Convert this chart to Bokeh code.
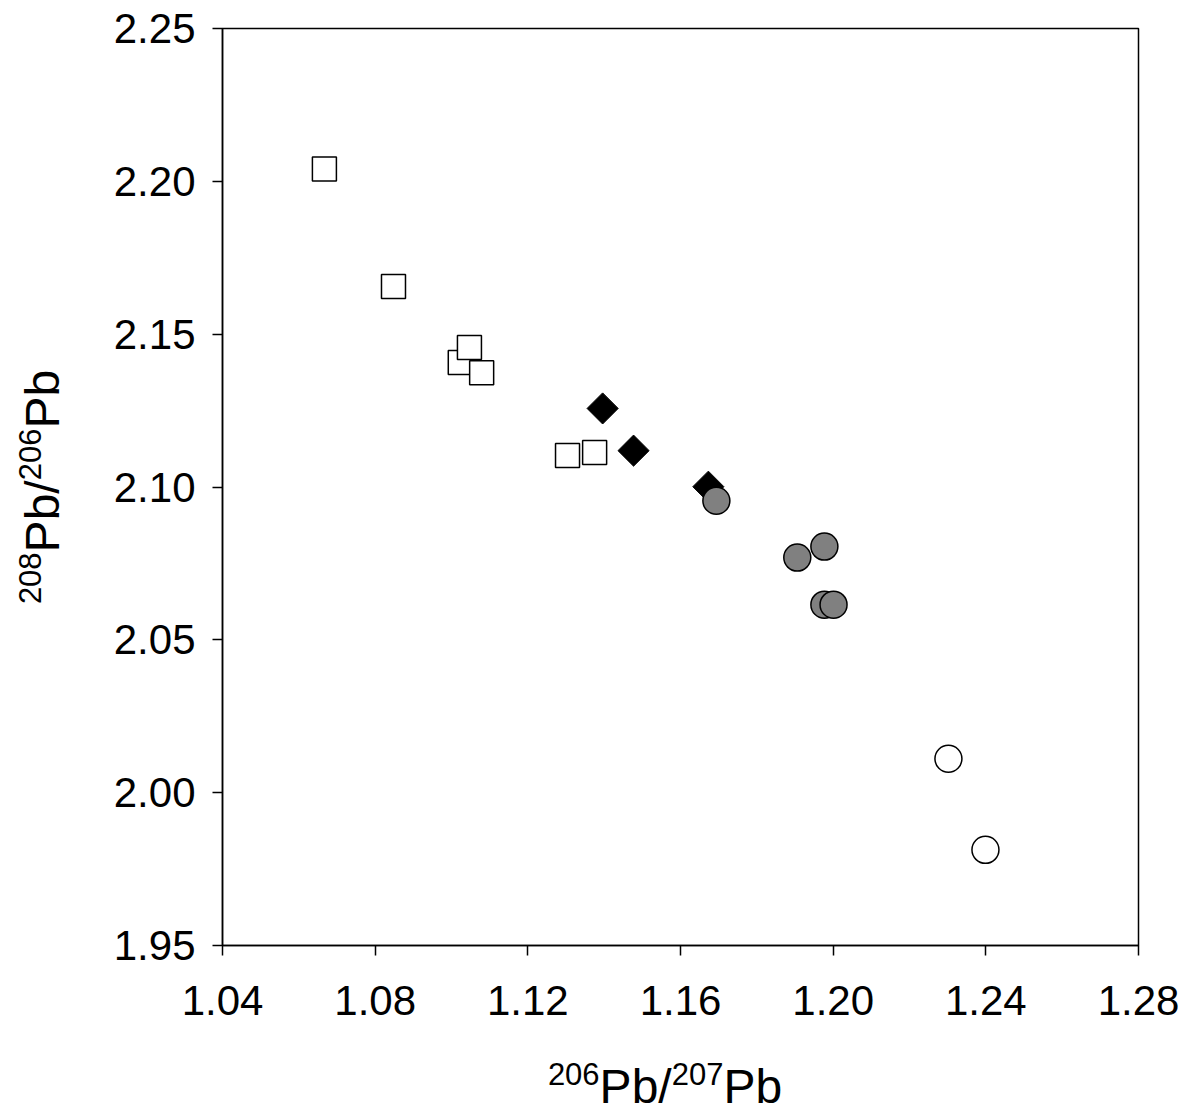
import math
from bokeh.plotting import figure
from bokeh.embed import file_html
from bokeh.resources import INLINE
from bokeh.models import FixedTicker, Range1d, CustomJSTickFormatter, Div
from bokeh.layouts import row, column

sq_x = [1.0667, 1.0848, 1.1023, 1.1047, 1.1079, 1.1304, 1.1375]
sq_y = [2.204, 2.1656, 2.1407, 2.1456, 2.1374, 2.1103, 2.1113]
dm_x = [1.1396, 1.1477, 1.1673]
dm_y = [2.1257, 2.1119, 2.1001]
gc_x = [1.1694, 1.1906, 1.1977, 1.1977, 1.2001]
gc_y = [2.0955, 2.0769, 2.0805, 2.0615, 2.0615]
oc_x = [1.2302, 1.2399]
oc_y = [2.0111, 1.9813]
x_ticks = [1.04, 1.08, 1.12, 1.16, 1.20, 1.24, 1.28]
y_ticks = [1.95, 2.00, 2.05, 2.10, 2.15, 2.20, 2.25]
x_label_parts = ["206", "Pb/", "207", "Pb"]
y_label_parts = ["208", "Pb/", "206", "Pb"]

DW = 70
p = figure(width=1110, height=1045, output_backend="svg", toolbar_location=None,
           x_range=Range1d(1.04, 1.28), y_range=Range1d(1.95, 2.25),
           min_border_left=212 - DW, min_border_right=52, min_border_top=28, min_border_bottom=100)
p.grid.visible = False
p.outline_line_color = "black"
p.outline_line_width = 1.5
for ax in (p.xaxis[0], p.yaxis[0]):
    ax.major_label_text_font = "Liberation Sans"
    ax.major_label_text_font_size = "42px"
    ax.major_label_text_color = "black"
    ax.minor_tick_line_color = None
    ax.major_tick_out = 10
    ax.major_tick_in = 0
    ax.axis_line_width = 1.5
    ax.major_tick_line_width = 1.5
    ax.formatter = CustomJSTickFormatter(code="return tick.toFixed(2)")
p.xaxis.ticker = FixedTicker(ticks=x_ticks)
p.yaxis.ticker = FixedTicker(ticks=y_ticks)
p.xaxis.major_label_standoff = 30
p.yaxis.major_label_standoff = 17

p.scatter(sq_x, sq_y, marker="square", size=24, fill_color="white", line_color="black", line_width=1.5)
p.scatter(dm_x, dm_y, marker="square", size=22, angle=math.pi/4, fill_color="black", line_color="black")
p.scatter(gc_x, gc_y, marker="circle", size=27, fill_color="#808080", line_color="black", line_width=1.5)
p.scatter(oc_x, oc_y, marker="circle", size=27, fill_color="white", line_color="black", line_width=1.5)

def label_html(parts, cx, cy, rot):
    s = "".join(
        f'<sup style="font-size:31px;vertical-align:0.55em">{t}</sup>' if i % 2 == 0 else t
        for i, t in enumerate(parts))
    tr = "translate(-50%,-50%)" + (" rotate(-90deg)" if rot else "")
    return (f'<div style="position:absolute;left:{cx}px;top:{cy}px;transform:{tr};'
            f'white-space:nowrap;font-family:\'Liberation Sans\';font-size:48px;'
            f'line-height:1;color:black">{s}</div>')

div_y = Div(text=label_html(y_label_parts, 36, 482, True), width=DW, height=1045,
            styles={"position": "relative", "overflow": "visible"})
div_x = Div(text=label_html(x_label_parts, 580, 35, False), width=1110, height=60,
            styles={"position": "relative", "overflow": "visible"})

layout = row(div_y, column(p, div_x, spacing=0), spacing=0)
open("out.html", "w").write(file_html(layout, INLINE))
